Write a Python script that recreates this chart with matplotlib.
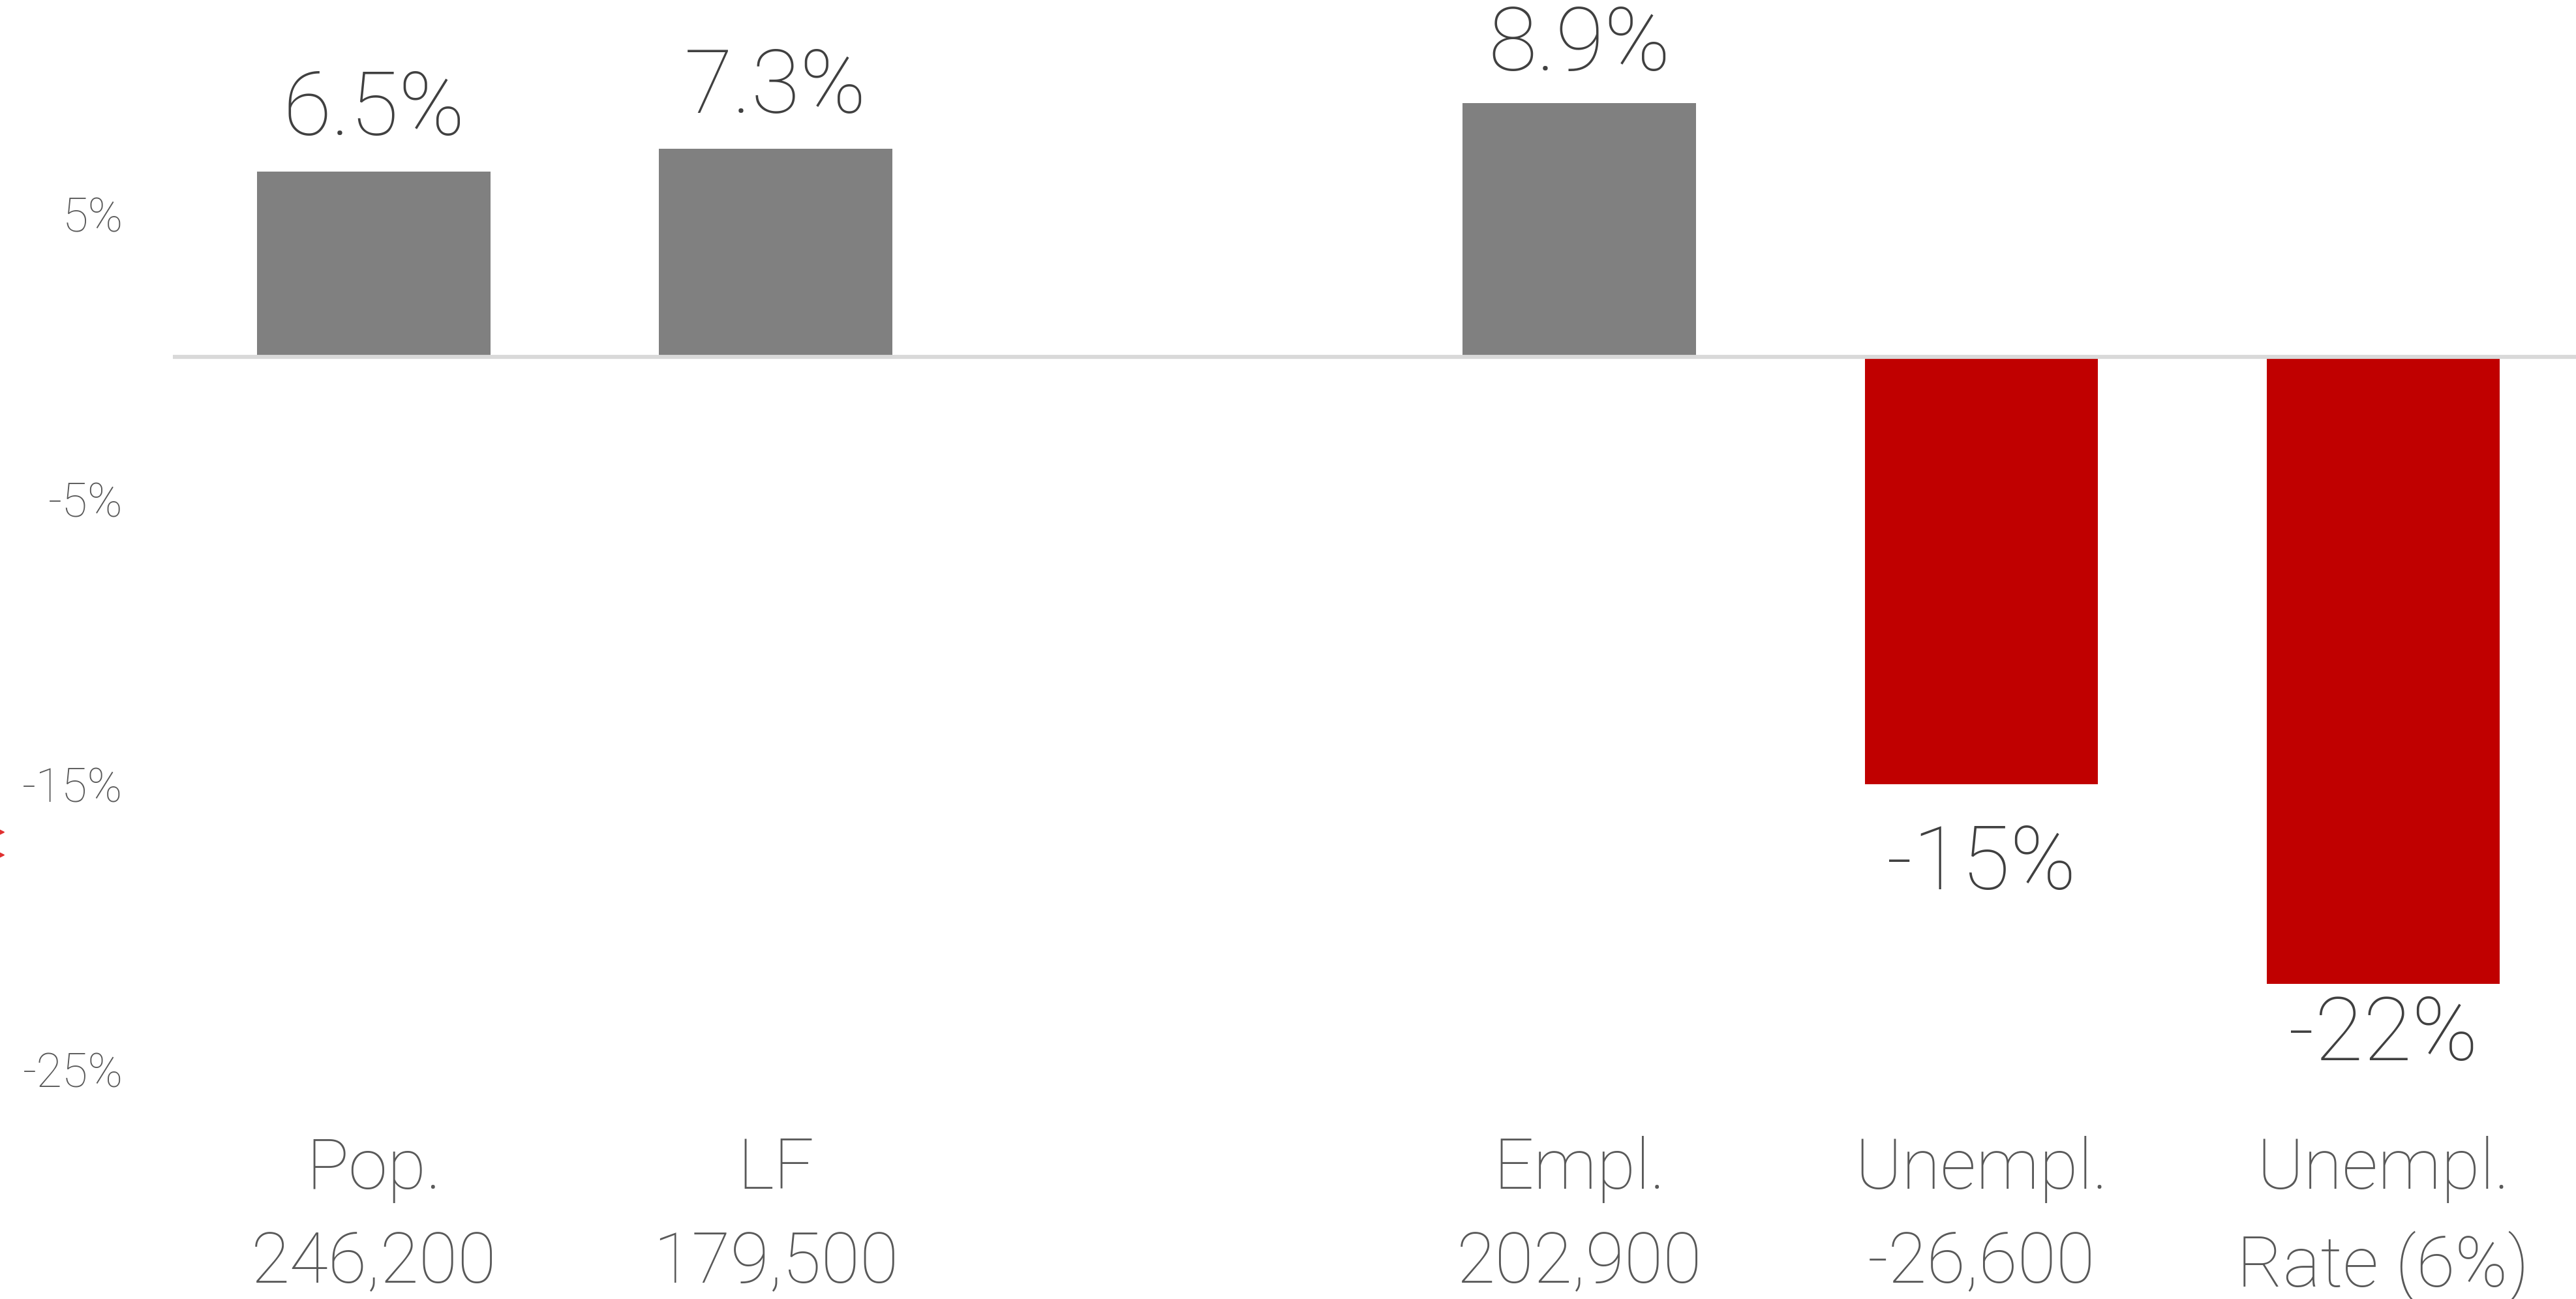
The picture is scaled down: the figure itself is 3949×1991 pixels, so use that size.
import matplotlib
matplotlib.use("Agg")
import matplotlib.pyplot as plt
from matplotlib.lines import Line2D
from matplotlib.ticker import FixedLocator, FuncFormatter

plt.rcParams['font.family'] = ['Roboto', 'DejaVu Sans']

# Change in each measure (percent); the empty slot keeps a gap between groups
categories = ["Pop.\n246,200", "LF\n179,500", "", "Empl.\n202,900",
              "Unempl.\n-26,600", "Unempl.\nRate (6%)"]
values = [6.5, 7.3, None, 8.9, -15, -22]
value_labels = ["6.5%", "7.3%", "", "8.9%", "-15%", "-22%"]
y_ticks = [5, -5, -15, -25]

# baseline offset of each value label from its bar end, in points
label_offsets = [40, 40, 0, 36, -116, -84]

GREY = "#808080"
RED = "#C00000"
ZERO = "#D9D9D9"
TEXT = "#404040"
TICK = "#595959"

W, H, DPI = 3949, 1991, 100
fig = plt.figure(figsize=(W / DPI, H / DPI), dpi=DPI)
ax = fig.add_axes([0.0671, 0.1547, 0.936, 0.8453])

xs = list(range(len(categories)))
for x, v, lab, off in zip(xs, values, value_labels, label_offsets):
    if v is None:
        continue
    color = GREY if v >= 0 else RED
    ax.bar(x, v, width=0.58, color=color, zorder=2)
    ax.annotate(lab, (x, v), xytext=(0, off), textcoords="offset points",
                ha="center", va="baseline", fontsize=98, fontweight="light",
                color=TEXT)

ax.axhline(0, color=ZERO, linewidth=4.5, zorder=3)

ax.set_xlim(-0.5, 5.5)
ax.set_ylim(-26, 12.52)
ax.set_xticks(xs)
ax.set_xticklabels(categories, fontsize=78, fontweight="light", color=TICK,
                   linespacing=1.5)
ax.yaxis.set_major_locator(FixedLocator(y_ticks))
ax.yaxis.set_major_formatter(FuncFormatter(lambda v, p: f"{v:.0f}%"))
ax.tick_params(axis="y", labelsize=52, labelcolor=TICK, length=0, pad=55)
ax.tick_params(axis="x", length=0, pad=42)
for lbl in ax.get_yticklabels():
    lbl.set_fontweight("light")
for s in ax.spines.values():
    s.set_visible(False)

# Small red chevrons peeking in at the left edge
fig.add_artist(Line2D([-4 / W, -4 / W], [1 - 1275 / H, 1 - 1310 / H],
                      transform=fig.transFigure, linestyle="none", marker=">",
                      markersize=14, color="#E03030"))

fig.savefig("out.png", dpi=DPI, facecolor="white")
